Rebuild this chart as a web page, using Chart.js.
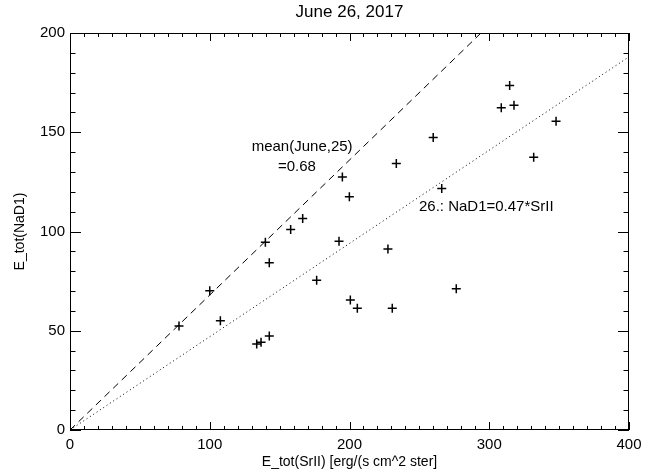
<!DOCTYPE html>
<html>
<head>
<meta charset="utf-8">
<script src="https://cdn.jsdelivr.net/npm/chart.js@4/dist/chart.umd.min.js"></script>
<style>
	body { margin: 0; background: #fff; }
	canvas { display: block; }
</style>
</head>
<body>
<canvas id="scatterChart" width="667" height="472"></canvas>
<script>
// measured points, June 26
const srII = [78.0, 100.0, 107.6, 133.6, 136.7, 142.6, 139.8, 142.6, 157.9, 166.5, 176.5, 192.5, 194.9, 199.9,
	200.6, 205.6, 227.5, 230.6, 233.5, 259.9, 266.0, 276.4, 308.6, 314.6, 317.7, 331.8, 347.8];
const naD1 = [52.4, 70.2, 55.1, 43.3, 44.2, 47.4, 94.6, 84.3, 101.0, 106.5, 75.4, 95.1, 127.5, 117.5,
	65.5, 61.3, 91.2, 61.3, 134.2, 147.4, 121.6, 71.2, 162.4, 173.5, 163.6, 137.4, 155.5];

// ratio lines NaD1 = k * SrII
const meanJune25 = 0.68;
const fitJune26 = 0.47;

const xTicks = [0, 100, 200, 300, 400];
const yTicks = [0, 50, 100, 150, 200];

const chartTitle = 'June 26, 2017';
const xTitle = 'E_tot(SrII) [erg/(s cm^2 ster]';
const yTitle = 'E_tot(NaD1)';
const labels = [
	{ text: 'mean(June,25)', x: 130, y: 142.6 },
	{ text: '=0.68', x: 148.8, y: 132.5 },
	{ text: '26.: NaD1=0.47*SrII', x: 249.7, y: 112.3 }
];

Chart.defaults.font.family = '"Liberation Sans", Arial, Helvetica, sans-serif';
Chart.defaults.color = '#000';

function lineThrough(k) {
	// from the origin to where the line leaves the box
	let xEnd = Math.min(400, 200 / k);
	return [{ x: 0, y: 0 }, { x: xEnd, y: k * xEnd }];
}

let points = srII.map((v, i) => ({ x: v, y: naD1[i] }));

let framePlugin = {
	id: 'idlFrame',
	afterDatasetsDraw(chart) {
		let ctx = chart.ctx;
		let a = chart.chartArea;
		let xs = chart.scales.x;
		let ys = chart.scales.y;
		ctx.save();
		ctx.strokeStyle = '#000';
		ctx.lineWidth = 1;
		ctx.strokeRect(a.left + 0.5, a.top + 0.5, a.right - a.left - 1, a.bottom - a.top - 1);

		ctx.beginPath();
		for (let v = 0; v <= 400; v += 10) {
			let px = Math.round(xs.getPixelForValue(v)) + 0.5;
			let len = v % 100 === 0 ? 8 : 4;
			ctx.moveTo(px, a.bottom); ctx.lineTo(px, a.bottom - len);
			ctx.moveTo(px, a.top); ctx.lineTo(px, a.top + len);
		}
		for (let v = 0; v <= 200; v += 10) {
			let py = Math.round(ys.getPixelForValue(v)) + 0.5;
			let len = v % 50 === 0 ? 11 : 5.5;
			ctx.moveTo(a.left, py); ctx.lineTo(a.left + len, py);
			ctx.moveTo(a.right, py); ctx.lineTo(a.right - len, py);
		}
		ctx.stroke();

		ctx.fillStyle = '#000';
		ctx.font = '15px "Liberation Sans", Arial, sans-serif';
		ctx.textAlign = 'left';
		ctx.textBaseline = 'middle';
		labels.forEach(l => {
			ctx.fillText(l.text, xs.getPixelForValue(l.x), ys.getPixelForValue(l.y));
		});

		ctx.font = '17px "Liberation Sans", Arial, sans-serif';
		ctx.textAlign = 'center';
		ctx.fillText(chartTitle, (a.left + a.right) / 2, 12);
		ctx.restore();
	}
};

let config = {
	type: 'scatter',
	data: {
		datasets: [{
			label: 'June 26',
			data: points,
			pointStyle: 'cross',
			pointRadius: 4.5,
			pointBorderWidth: 1.5,
			borderColor: '#000',
			backgroundColor: '#000'
		}, {
			label: 'mean June 25',
			data: lineThrough(meanJune25),
			showLine: true,
			pointRadius: 0,
			borderColor: '#000',
			borderWidth: 1,
			borderDash: [7, 5]
		}, {
			label: 'fit June 26',
			data: lineThrough(fitJune26),
			showLine: true,
			pointRadius: 0,
			borderColor: '#000',
			borderWidth: 1,
			borderDash: [1, 3]
		}]
	},
	options: {
		responsive: false,
		animation: false,
		layout: {
			padding: { top: 33, right: 38, left: 0, bottom: 0 }
		},
		plugins: {
			legend: { display: false },
			tooltip: { enabled: false }
		},
		scales: {
			x: {
				type: 'linear',
				min: 0,
				max: 400,
				afterBuildTicks: s => { s.ticks = xTicks.map(v => ({ value: v })); },
				afterFit: s => { s.height = 42; },
				grid: { display: false, drawTicks: false },
				border: { display: false },
				ticks: { font: { size: 15 }, padding: 6, maxRotation: 0 },
				title: {
					display: true,
					text: xTitle,
					font: { size: 14 },
					padding: { top: 0, bottom: 1 }
				}
			},
			y: {
				type: 'linear',
				min: 0,
				max: 200,
				afterBuildTicks: s => { s.ticks = yTicks.map(v => ({ value: v })); },
				afterFit: s => { s.width = 70; },
				grid: { display: false, drawTicks: false },
				border: { display: false },
				ticks: { font: { size: 15 }, padding: 5 },
				title: {
					display: true,
					text: yTitle,
					font: { size: 14 },
					padding: { top: 12, bottom: 0 }
				}
			}
		}
	},
	plugins: [framePlugin]
};

let canvas = document.getElementById('scatterChart');
new Chart(canvas.getContext('2d'), config);
</script>
</body>
</html>
